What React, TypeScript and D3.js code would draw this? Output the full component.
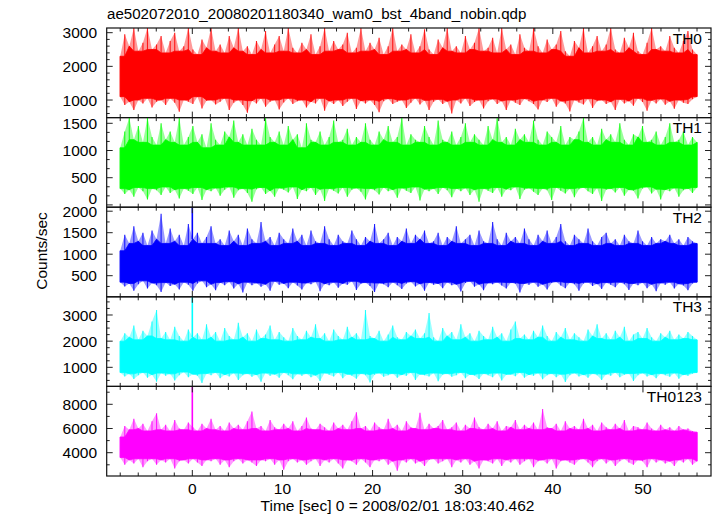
import React from "react";
import * as d3 from "d3";

const TITLE = "ae502072010_20080201180340_wam0_bst_4band_nobin.qdp";
const X_LABEL = "Time [sec] 0 = 2008/02/01 18:03:40.462";
const Y_LABEL = "Counts/sec";

const T_START = -8;
const T_END = 56;
const X_DOMAIN = [-9.5, 57.55];
const X_MAJOR = 10;
const X_MINOR = 2;

const bandNames = ["TH0", "TH1", "TH2", "TH3", "TH0123"];
const bandColors = ["#ff0000", "#00ff00", "#0000ff", "#00ffff", "#ff00ff"];
const yDomains = [[478, 3139], [-42, 1605], [9, 2093], [271, 3695], [2074, 9480]];
const yMajorStep = [1000, 500, 500, 1000, 2000];
const yMinorDiv = [5, 3, 2, 4, 2];

// envelope of each 0.5 s bin (upper / lower)
const th0Upper = [
  2300, 2950, 2600, 3140, 2450, 2700, 3140, 2500, 2650, 2900,
  2400, 2750, 3000, 2450, 2600, 3140, 2500, 2350, 2800, 2550,
  3140, 2450, 2650, 2400, 2900, 2550, 3140, 2450, 2600, 2350,
  2750, 2500, 3050, 2400, 2650, 2900, 2450, 3140, 2550, 2400,
  2700, 2500, 2950, 2350, 2600, 3140, 2450, 2750, 2500, 2650,
  3000, 2400, 2550, 3140, 2450, 2700, 2500, 2850, 2350, 2600,
  3140, 2450, 2650, 2500, 2950, 2400, 2600, 3100, 2500, 2350,
  2800, 2550, 3140, 2450, 2600, 2400, 2900, 2500, 2700, 3140,
  2450, 2550, 2850, 2400, 3140, 2500, 2650, 2350, 2950, 2550,
  2450, 3140, 2600, 2400, 2800, 2500, 2650, 3050, 2450, 2300,
  2750, 2550, 3140, 2400, 2600, 2900, 2450, 2650, 3140, 2500,
  2400, 2850, 2550, 3000, 2450, 2350, 2700, 3140, 2500, 2600,
  2450, 2900, 2550, 2400, 2750, 3050, 2500, 2350,
];
const th0Lower = [
  1100, 850, 950, 700, 1000, 900, 1050, 780, 950, 1000,
  850, 1050, 920, 650, 1000, 950, 880, 1100, 750, 980,
  1000, 870, 950, 1050, 700, 920, 1000, 850, 620, 980,
  900, 1050, 800, 950, 1000, 720, 930, 1050, 880, 960,
  1000, 780, 950, 900, 1050, 680, 970, 880, 1000, 820,
  950, 1050, 730, 980, 900, 1000, 850, 640, 960, 1040,
  880, 950, 1000, 760, 920, 1050, 870, 990, 700, 950,
  1020, 880, 960, 600, 1000, 900, 1050, 820, 940, 1000,
  750, 960, 1030, 880, 970, 700, 1000, 920, 850, 1040,
  960, 880, 720, 1000, 940, 1050, 800, 970, 900, 660,
  1000, 930, 870, 1040, 760, 960, 1000, 880, 950, 700,
  1020, 900, 970, 830, 1050, 940, 680, 990, 900, 1030,
  860, 960, 740, 1000, 920, 880, 1020, 1100,
];
const th1Upper = [
  1050, 1350, 1600, 1200, 1450, 1150, 1600, 1250, 1100, 1500,
  1200, 1350, 1150, 1600, 1100, 1250, 1450, 1150, 1300, 1050,
  1500, 1200, 1100, 1350, 1250, 1550, 1150, 1300, 1100, 1400,
  1200, 1100, 1600, 1250, 1150, 1350, 1100, 1450, 1200, 1300,
  1050, 1500, 1200, 1150, 1350, 1100, 1250, 1550, 1150, 1200,
  1400, 1100, 1250, 1150, 1500, 1200, 1100, 1350, 1200, 1450,
  1150, 1250, 1600, 1100, 1300, 1200, 1150, 1450, 1250, 1100,
  1550, 1200, 1150, 1350, 1100, 1250, 1500, 1150, 1300, 1200,
  1100, 1450, 1200, 1600, 1150, 1250, 1100, 1400, 1200, 1300,
  1150, 1550, 1200, 1100, 1350, 1250, 1150, 1450, 1100, 1250,
  1200, 1350, 1600, 1150, 1250, 1100, 1400, 1200, 1300, 1150,
  1500, 1200, 1100, 1300, 1250, 1450, 1150, 1200, 1350, 1100,
  1250, 1500, 1150, 1200, 1350, 1100, 1250, 1150,
];
const th1Lower = [
  300, 200, 280, 150, 320, 250, 100, 300, 270, 180,
  330, 220, 280, 120, 300, 260, 200, 320, 90, 280,
  250, 310, 170, 280, 330, 130, 270, 300, 220, 60,
  290, 320, 200, 260, 150, 310, 280, 230, 330, 110,
  280, 250, 320, 180, 290, 70, 300, 260, 210, 320,
  150, 280, 310, 240, 100, 300, 270, 190, 320, 250,
  280, 130, 310, 260, 220, 330, 80, 290, 250, 300,
  200, 320, 270, 140, 300, 250, 310, 180, 280, 60,
  300, 260, 220, 320, 150, 290, 270, 330, 110, 280,
  310, 240, 180, 300, 270, 90, 320, 260, 210, 300,
  140, 290, 320, 250, 200, 310, 70, 280, 300, 230,
  320, 170, 280, 260, 120, 300, 330, 210, 290, 100,
  280, 250, 310, 150, 270, 300, 220, 320,
];
const th2Upper = [
  1080, 1450, 1250, 1650, 1300, 1500, 1200, 1550, 1350, 1940,
  1250, 1600, 1300, 1450, 1200, 1700, 1350, 1500, 1250, 1400,
  1650, 1250, 1350, 1200, 1550, 1300, 1450, 1200, 1600, 1350,
  1250, 1750, 1300, 1400, 1200, 1500, 1350, 1250, 1600, 1300,
  1450, 1200, 1550, 1300, 1250, 1650, 1350, 1200, 1450, 1300,
  1250, 1550, 1350, 1200, 1400, 1300, 1700, 1250, 1350, 1500,
  1200, 1400, 1300, 1600, 1250, 1450, 1350, 1550, 1250, 1300,
  1500, 1200, 1400, 1300, 1650, 1250, 1350, 1450, 1200, 1550,
  1300, 1250, 1750, 1350, 1200, 1500, 1300, 1400, 1250, 1600,
  1350, 1200, 1450, 1300, 1550, 1250, 1400, 1700, 1300, 1200,
  1450, 1350, 1250, 1600, 1300, 1200, 1400, 1500, 1250, 1350,
  1200, 1450, 1300, 1250, 1550, 1300, 1200, 1400, 1250, 1350,
  1300, 1450, 1250, 1350, 1200, 1400, 1300, 1250,
];
const th2Lower = [
  350, 250, 320, 150, 300, 380, 200, 330, 280, 120,
  340, 260, 300, 180, 350, 290, 150, 320, 380, 230,
  300, 160, 340, 280, 360, 200, 310, 110, 350, 280,
  330, 240, 300, 150, 370, 290, 320, 210, 350, 270,
  180, 330, 300, 360, 140, 310, 280, 350, 220, 320,
  290, 370, 170, 310, 340, 260, 120, 330, 300, 230,
  350, 280, 190, 320, 360, 250, 310, 150, 340, 290,
  320, 210, 350, 280, 300, 130, 330, 370, 240, 300,
  160, 330, 300, 350, 270, 200, 340, 310, 110, 320,
  290, 350, 240, 300, 180, 330, 360, 270, 210, 340,
  300, 150, 320, 350, 260, 310, 190, 340, 290, 230,
  350, 300, 170, 320, 280, 340, 210, 300, 140, 330,
  290, 350, 200, 310, 270, 160, 320, 350,
];
const th3Upper = [
  2000, 2300, 2150, 2600, 2050, 2400, 2200, 2750, 3190, 2100,
  2350, 2050, 2550, 2200, 2000, 2450, 2150, 2300, 2050, 2650,
  2150, 2350, 2000, 2500, 2200, 2050, 2700, 2150, 2300, 2000,
  2450, 2100, 2250, 2600, 2050, 2350, 2150, 2000, 2500, 2200,
  2050, 2400, 2150, 2650, 2100, 2300, 2000, 2450, 2200, 2050,
  2550, 2150, 2300, 2050, 3190, 2200, 2100, 2400, 2000, 2250,
  2600, 2150, 2050, 2350, 2200, 2450, 2100, 2300, 3080, 2150,
  2000, 2500, 2200, 2350, 2050, 2650, 2150, 2300, 2000, 2400,
  2200, 2050, 2550, 2150, 2300, 2000, 2450, 2750, 2100, 2250,
  2050, 2400, 2150, 2600, 2200, 2000, 2350, 2150, 2500, 2050,
  2300, 2150, 2000, 2450, 2200, 2650, 2100, 2300, 2050, 2400,
  2150, 2550, 2000, 2250, 2350, 2100, 2500, 2150, 2000, 2300,
  2150, 2400, 2050, 2250, 2100, 2350, 2200, 2050,
];
const th3Lower = [
  800, 650, 750, 550, 700, 800, 600, 720, 450, 780,
  680, 750, 500, 700, 820, 620, 740, 680, 400, 760,
  700, 800, 580, 720, 650, 780, 520, 700, 760, 640,
  720, 450, 780, 680, 740, 600, 800, 700, 540, 750,
  680, 760, 620, 700, 480, 780, 720, 650, 800, 580,
  740, 680, 560, 760, 700, 420, 720, 780, 640, 700,
  760, 600, 720, 680, 800, 520, 740, 700, 650, 780,
  470, 720, 760, 640, 700, 800, 580, 730, 690, 550,
  760, 700, 620, 780, 500, 720, 740, 660, 800, 600,
  720, 680, 780, 540, 700, 760, 620, 740, 440, 700,
  780, 650, 720, 600, 760, 700, 520, 740, 680, 800,
  620, 720, 760, 480, 700, 780, 650, 720, 580, 760,
  700, 640, 780, 560, 720, 680, 750, 800,
];
const th0123Upper = [
  5300, 6200, 5900, 6800, 6000, 6400, 5800, 6600, 7260, 5900,
  6300, 5800, 6700, 6000, 5900, 6500, 6100, 5800, 6400, 6000,
  6800, 5900, 6200, 5800, 6500, 6000, 6300, 5900, 6600, 7400,
  6000, 6200, 5800, 6700, 6100, 5900, 6400, 6000, 6600, 5800,
  6200, 6900, 6000, 5900, 6400, 6100, 5800, 6500, 6000, 6300,
  5900, 6600, 7340, 6000, 6200, 5800, 6500, 6100, 5900, 6800,
  6000, 6300, 5800, 6600, 6100, 6000, 7300, 5900, 6400, 6000,
  6200, 6700, 5900, 6100, 6500, 5800, 6300, 6000, 6900, 6100,
  5900, 6400, 6000, 6600, 5800, 6200, 6100, 6700, 5900, 6300,
  6000, 6500, 5900, 7610, 6100, 6000, 6400, 5800, 6600, 6000,
  6200, 5900, 6800, 6000, 6300, 5800, 6500, 6100, 5900, 6400,
  6000, 6700, 5800, 6200, 6100, 5900, 6500, 6000, 5800, 6300,
  5900, 6100, 5800, 6200, 5900, 6000, 5800, 5700,
];
const th0123Lower = [
  3600, 3000, 3400, 3100, 3500, 2800, 3300, 3500, 3000, 3400,
  3200, 3500, 2700, 3300, 3400, 3100, 3500, 3200, 2900, 3400,
  3300, 3500, 3000, 3400, 2800, 3300, 3500, 3100, 3400, 3200,
  2900, 3400, 3300, 3500, 3000, 3400, 2600, 3300, 3500, 3200,
  3400, 3000, 3300, 3500, 2900, 3400, 3200, 3500, 3100, 2700,
  3400, 3300, 3000, 3500, 3200, 2800, 3400, 3300, 3500, 3000,
  3300, 2500, 3400, 3200, 3500, 3100, 3300, 2900, 3400, 3500,
  3100, 3300, 3500, 2800, 3400, 3200, 3500, 3000, 3300, 2700,
  3400, 3300, 3100, 3500, 2900, 3400, 3200, 3500, 3000, 3300,
  3500, 2800, 3300, 3400, 3100, 3500, 2700, 3300, 3400, 3200,
  3000, 3400, 3500, 3200, 2800, 3300, 3500, 3100, 3400, 2900,
  3300, 3500, 3200, 3000, 3400, 3300, 2800, 3500, 3200, 3400,
  3100, 3300, 2900, 3400, 3200, 3500, 3000, 3300,
];

const uppers = [th0Upper, th1Upper, th2Upper, th3Upper, th0123Upper];
const lowers = [th0Lower, th1Lower, th2Lower, th3Lower, th0123Lower];

// short flare at t = 0
const FLARE_TIME = 0;
const flarePeaks = [null, null, 2100, 3700, 9500];

const W = 717;
const H = 516;
const LEFT = 106.7;
const RIGHT = 711;
const TOP = 28;
const BOTTOM = 476;
const FONT = "'Liberation Sans', Arial, Helvetica, sans-serif";
const FS = 15.5;
const CORE_WIN = 1;

function rolling(arr: number[], win: number, fn: (v: number[]) => number) {
  return arr.map((_, i) => fn(arr.slice(Math.max(0, i - win), Math.min(arr.length, i + win + 1))));
}

export default function App() {
  const nPanels = bandNames.length;
  const ph = (BOTTOM - TOP) / nPanels;
  const x = d3.scaleLinear().domain(X_DOMAIN).range([LEFT, RIGHT]);
  const xMajor = d3.range(Math.ceil(X_DOMAIN[0] / X_MAJOR) * X_MAJOR, X_DOMAIN[1] + 1e-9, X_MAJOR);
  const xMinor = d3
    .range(Math.ceil(X_DOMAIN[0] / X_MINOR) * X_MINOR, X_DOMAIN[1] + 1e-9, X_MINOR)
    .filter((v) => Math.abs(v % X_MAJOR) > 1e-9);

  const panels = bandNames.map((name, p) => {
    const top = TOP + p * ph;
    const bot = top + ph;
    const y = d3.scaleLinear().domain(yDomains[p]).range([bot, top]);
    const up = uppers[p];
    const lo = lowers[p];
    const n = up.length;
    const tAt = (i: number) => T_START + (i * (T_END - T_START)) / (n - 1);
    const coreUp = rolling(up, CORE_WIN, (v) => d3.min(v) as number);
    const coreLo = rolling(lo, CORE_WIN, (v) => d3.max(v) as number);
    const idx = d3.range(n);
    const fullArea = d3
      .area<number>()
      .x((i) => x(tAt(i)))
      .y0((i) => y(lo[i]))
      .y1((i) => y(up[i]))(idx) || "";
    const coreArea = d3
      .area<number>()
      .x((i) => x(tAt(i)))
      .y0((i) => y(coreLo[i]))
      .y1((i) => y(coreUp[i]))(idx) || "";
    const color = bandColors[p];
    const step = yMajorStep[p];
    const [d0, d1] = yDomains[p];
    const majors = d3.range(Math.ceil(d0 / step) * step, d1 + 1e-9, step);
    const mstep = step / yMinorDiv[p];
    const minors = d3
      .range(Math.ceil(d0 / mstep) * mstep, d1 + 1e-9, mstep)
      .filter((v) => Math.abs(v / step - Math.round(v / step)) > 1e-6);
    const flare = flarePeaks[p];
    let flareLine = null as any;
    if (flare != null) {
      const bi = Math.round(((FLARE_TIME - T_START) / (T_END - T_START)) * (n - 1));
      flareLine = (
        <line
          x1={x(FLARE_TIME)}
          x2={x(FLARE_TIME)}
          y1={y(coreUp[bi])}
          y2={y(flare)}
          stroke={color}
          strokeWidth={1.6}
        />
      );
    }
    return (
      <g key={name}>
        <clipPath id={`clip${p}`}>
          <rect x={LEFT} y={top} width={RIGHT - LEFT} height={ph} />
        </clipPath>
        <g clipPath={`url(#clip${p})`}>
          <path d={fullArea} fill={color} fillOpacity={0.4} stroke="none" />
          {idx.map((i) => (
            <line
              key={i}
              x1={x(tAt(i))}
              x2={x(tAt(i))}
              y1={y(lo[i])}
              y2={y(up[i])}
              stroke={color}
              strokeWidth={1.1}
              strokeOpacity={0.85}
            />
          ))}
          <path d={coreArea} fill={color} stroke={color} strokeWidth={0.8} />
          {flareLine}
        </g>
        {majors.map((v) => (
          <g key={`M${v}`}>
            <line x1={LEFT} x2={LEFT + 6} y1={y(v)} y2={y(v)} stroke="#222" strokeWidth={1} />
            <line x1={RIGHT - 6} x2={RIGHT} y1={y(v)} y2={y(v)} stroke="#222" strokeWidth={1} />
            <text
              x={97}
              y={Math.min(y(v), bot - 9)}
              dy="0.36em"
              textAnchor="end"
              fontFamily={FONT}
              fontSize={FS}
              fill="#000"
            >
              {v}
            </text>
          </g>
        ))}
        {minors.map((v) => (
          <g key={`m${v}`}>
            <line x1={LEFT} x2={LEFT + 3} y1={y(v)} y2={y(v)} stroke="#222" strokeWidth={1} />
            <line x1={RIGHT - 3} x2={RIGHT} y1={y(v)} y2={y(v)} stroke="#222" strokeWidth={1} />
          </g>
        ))}
        {xMajor.map((v) => (
          <g key={`xM${v}`}>
            <line x1={x(v)} x2={x(v)} y1={top} y2={top + 6} stroke="#222" strokeWidth={1} />
            <line x1={x(v)} x2={x(v)} y1={bot - 6} y2={bot} stroke="#222" strokeWidth={1} />
          </g>
        ))}
        {xMinor.map((v) => (
          <g key={`xm${v}`}>
            <line x1={x(v)} x2={x(v)} y1={top} y2={top + 3.5} stroke="#222" strokeWidth={1} />
            <line x1={x(v)} x2={x(v)} y1={bot - 3.5} y2={bot} stroke="#222" strokeWidth={1} />
          </g>
        ))}
        <rect x={LEFT} y={top} width={RIGHT - LEFT} height={ph} fill="none" stroke="#111" strokeWidth={1.2} />
        <text x={702} y={top + 15.5} textAnchor="end" fontFamily={FONT} fontSize={FS} fill="#000">
          {name}
        </text>
      </g>
    );
  });

  return (
    <svg width={W} height={H} style={{ position: "absolute", left: 0, top: 0, background: "#fff" }}>
      <rect x={0} y={0} width={W} height={H} fill="#fff" />
      <text x={107} y={19.3} fontFamily={FONT} fontSize={15.1} fill="#000">
        {TITLE}
      </text>
      {panels}
      {xMajor.map((v) => (
        <text key={`xl${v}`} x={x(v)} y={494} textAnchor="middle" fontFamily={FONT} fontSize={FS} fill="#000">
          {v}
        </text>
      ))}
      <text x={397.5} y={511} textAnchor="middle" fontFamily={FONT} fontSize={FS} fill="#000">
        {X_LABEL}
      </text>
      <text
        transform={`translate(47, 251) rotate(-90)`}
        textAnchor="middle"
        fontFamily={FONT}
        fontSize={FS}
        fill="#000"
      >
        {Y_LABEL}
      </text>
    </svg>
  );
}
